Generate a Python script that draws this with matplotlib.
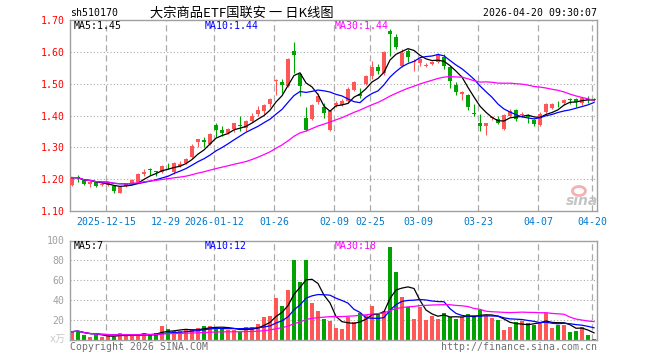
import numpy as np
import pandas as pd
import matplotlib
matplotlib.use('Agg')
import matplotlib.pyplot as plt
from matplotlib.patches import Ellipse

# ---------------- data ----------------
opens = [1.182, 1.206, 1.199, 1.186, 1.191, 1.182, 1.183, 1.180, 1.158, 1.180,
         1.186, 1.191, 1.216, 1.230, 1.225, 1.222, 1.242, 1.222, 1.241, 1.251,
         1.269, 1.316, 1.323, 1.310, 1.370, 1.354, 1.345, 1.359, 1.369, 1.362,
         1.383, 1.404, 1.413, 1.437, 1.508, 1.505, 1.493, 1.604, 1.530, 1.392,
         1.389, 1.442, 1.428, 1.355, 1.432, 1.432, 1.446, 1.480, 1.468, 1.498,
         1.525, 1.551, 1.533, 1.666, 1.648, 1.556, 1.604, 1.568, 1.566, 1.556,
         1.561, 1.567, 1.585, 1.553, 1.497, 1.468, 1.464, 1.407, 1.376, 1.366,
         1.392, 1.390, 1.357, 1.399, 1.417, 1.402, 1.398, 1.385, 1.370, 1.411,
         1.423, 1.440, 1.438, 1.452, 1.453, 1.438, 1.452, 1.452]
highs = [1.208, 1.212, 1.200, 1.193, 1.193, 1.189, 1.190, 1.182, 1.178, 1.187,
         1.200, 1.220, 1.233, 1.234, 1.226, 1.244, 1.252, 1.253, 1.258, 1.266,
         1.310, 1.327, 1.334, 1.345, 1.376, 1.366, 1.360, 1.378, 1.399, 1.386,
         1.409, 1.430, 1.436, 1.455, 1.516, 1.515, 1.582, 1.632, 1.535, 1.428,
         1.435, 1.470, 1.440, 1.418, 1.444, 1.452, 1.490, 1.508, 1.487, 1.526,
         1.572, 1.561, 1.602, 1.671, 1.655, 1.610, 1.608, 1.577, 1.580, 1.566,
         1.572, 1.596, 1.593, 1.555, 1.504, 1.478, 1.466, 1.435, 1.404, 1.378,
         1.400, 1.398, 1.404, 1.419, 1.420, 1.410, 1.404, 1.390, 1.410, 1.440,
         1.438, 1.446, 1.451, 1.456, 1.454, 1.458, 1.461, 1.455]
lows = [1.178, 1.191, 1.183, 1.175, 1.174, 1.178, 1.180, 1.158, 1.156, 1.175,
        1.184, 1.188, 1.210, 1.214, 1.210, 1.220, 1.232, 1.217, 1.238, 1.248,
        1.266, 1.300, 1.300, 1.308, 1.331, 1.336, 1.342, 1.349, 1.352, 1.352,
        1.380, 1.400, 1.405, 1.428, 1.465, 1.470, 1.490, 1.534, 1.462, 1.352,
        1.385, 1.437, 1.392, 1.352, 1.428, 1.430, 1.440, 1.478, 1.456, 1.495,
        1.515, 1.530, 1.528, 1.588, 1.608, 1.553, 1.567, 1.540, 1.555, 1.553,
        1.558, 1.565, 1.546, 1.485, 1.463, 1.449, 1.418, 1.399, 1.352, 1.340,
        1.385, 1.373, 1.354, 1.396, 1.383, 1.394, 1.376, 1.366, 1.368, 1.408,
        1.420, 1.428, 1.432, 1.436, 1.428, 1.432, 1.440, 1.444]
closes = [1.205, 1.204, 1.185, 1.190, 1.177, 1.186, 1.187, 1.162, 1.175, 1.184,
          1.198, 1.216, 1.224, 1.228, 1.222, 1.242, 1.240, 1.251, 1.248, 1.264,
          1.305, 1.326, 1.316, 1.342, 1.355, 1.346, 1.357, 1.376, 1.367, 1.383,
          1.399, 1.418, 1.432, 1.451, 1.513, 1.496, 1.578, 1.590, 1.493, 1.355,
          1.432, 1.460, 1.407, 1.413, 1.440, 1.446, 1.484, 1.505, 1.462, 1.524,
          1.551, 1.541, 1.600, 1.655, 1.614, 1.596, 1.585, 1.572, 1.578, 1.559,
          1.569, 1.590, 1.556, 1.509, 1.473, 1.475, 1.428, 1.405, 1.366, 1.376,
          1.395, 1.376, 1.401, 1.415, 1.389, 1.405, 1.396, 1.373, 1.406, 1.437,
          1.435, 1.438, 1.448, 1.450, 1.441, 1.456, 1.450, 1.448]
volumes = [8.4, 9.4, 4.7, 3.4, 5.0, 3.4, 4.0, 3.0, 7.4, 4.7,
           5.0, 6.0, 6.7, 5.0, 6.7, 14.0, 11.0, 9.3, 9.3, 10.0,
           11.0, 12.0, 14.0, 14.0, 12.7, 11.7, 10.0, 10.0, 8.3, 12.7,
           13.3, 16.0, 22.7, 24.0, 42.0, 34.0, 50.0, 80.0, 58.0, 80.0,
           37.0, 29.0, 21.0, 19.4, 11.7, 11.0, 23.4, 18.0, 26.8, 25.0,
           34.0, 26.8, 29.0, 93.6, 68.0, 43.5, 32.8, 21.0, 33.4, 20.0,
           24.0, 21.0, 27.4, 23.4, 21.0, 22.7, 26.0, 24.0, 30.0, 24.0,
           21.7, 20.0, 10.0, 13.0, 18.0, 19.0, 16.7, 15.0, 18.0, 26.8,
           12.0, 15.0, 15.0, 8.0, 9.0, 13.0, 5.0, 1.0]
tick_idx = [6, 16, 24, 34, 44, 50, 58, 68, 78, 87]
tick_labels = ['2025-12-15', '12-29', '2026-01-12', '01-26', '02-09',
               '02-25', '03-09', '03-23', '04-07', '04-20']
price_ticks = [1.10, 1.20, 1.30, 1.40, 1.50, 1.60, 1.70]
vol_ticks = [20, 40, 60, 80, 100]
price_ma_text = ['MA5:1.45', 'MA10:1.44', 'MA30:1.44']
vol_ma_text = ['MA5:7', 'MA10:12', 'MA30:18']
symbol = 'sh510170'
title = '大宗商品ETF国联安 一 日K线图'
stamp = '2026-04-20 09:30:07'

# ---------------- styling ----------------
MONO = 'DejaVu Sans Mono'
FS = 7.15
RED = '#ff5656'
GREEN = '#00a300'
GRID = '#aaaaaa'
BORDER = '#a0a0a0'
MA_COLORS = ['#000000', '#0000ff', '#ff00ff']

W, H = 660, 360
fig = plt.figure(figsize=(W / 100, H / 100), dpi=100)
fig.patch.set_facecolor('white')

def fx(px):
    return px / W

def fy(py):
    return 1 - py / H

L, R = 70, 597
ax = fig.add_axes([fx(L), fy(211), fx(R) - fx(L), fy(20) - fy(211)])
axv = fig.add_axes([fx(L), fy(340), fx(R) - fx(L), fy(240.5) - fy(340)])

df = pd.DataFrame({'o': opens, 'h': highs, 'l': lows, 'c': closes, 'v': volumes})
x = np.arange(len(df))
up = df['c'] >= df['o']
cols = np.where(up, RED, GREEN)

xmin, xmax = -1 / 3, 87.5
grid_x = [t - 1 / 3 for t in tick_idx]

# ---- price panel ----
for g in grid_x:
    ax.axvline(g, color=GRID, lw=0.9, ls=(0, (5, 3)), zorder=0)
for p in price_ticks[1:-1]:
    ax.axhline(p, color=GRID, lw=0.8, ls=(0, (1, 2)), zorder=0)

ax.vlines(x, df['l'], df['h'], colors=cols, lw=0.8, zorder=2)
body_bottom = np.minimum(df['o'], df['c'])
body_h = np.maximum((df['c'] - df['o']).abs(), 0.0028)
ax.bar(x, body_h, bottom=body_bottom, width=0.8, color=cols, linewidth=0, zorder=3)

for n, colr in zip([5, 10, 30], MA_COLORS):
    ma = df['c'].rolling(n, min_periods=1).mean()
    ax.plot(x, ma, color=colr, lw=0.9, zorder=4)

ax.set_xlim(xmin, xmax)
ax.set_ylim(price_ticks[0], price_ticks[-1])
ax.set_yticks(price_ticks)
ax.set_yticklabels(['%.2f' % p for p in price_ticks], family=MONO, fontsize=FS, color='#ff0000')
ax.set_xticks(grid_x)
ax.set_xticklabels(tick_labels, family=MONO, fontsize=FS, color='#0078cc')
ax.tick_params(length=0, pad=4)

# ---- volume panel ----
for g in grid_x:
    axv.axvline(g, color=GRID, lw=0.9, ls=(0, (5, 3)), zorder=0)
for v in vol_ticks[:-1]:
    axv.axhline(v, color=GRID, lw=0.8, ls=(0, (1, 2)), zorder=0)
axv.bar(x, df['v'], width=0.82, color=cols, linewidth=0, zorder=2)
for n, colr in zip([5, 10, 30], MA_COLORS):
    ma = df['v'].rolling(n, min_periods=1).mean()
    axv.plot(x, ma, color=colr, lw=0.9, zorder=4)
axv.set_xlim(xmin, xmax)
axv.set_ylim(0, vol_ticks[-1])
axv.set_yticks(vol_ticks)
axv.set_yticklabels([str(v) for v in vol_ticks], family=MONO, fontsize=FS, color='#a0a0a0')
axv.set_xticks([])
axv.tick_params(length=0, pad=4)

for a in (ax, axv):
    for s in a.spines.values():
        s.set_color(BORDER)
        s.set_linewidth(1.0)

# ---- texts ----
fig.text(fx(70), fy(13), symbol, family=MONO, fontsize=FS, color='#000000', va='center', ha='left')
fig.text(fx(242), fy(13), title, family=['Noto Sans CJK SC', 'DejaVu Sans'], fontsize=9.5,
         color='#000000', va='center', ha='center')
fig.text(fx(597), fy(13), stamp, family=MONO, fontsize=FS, color='#000000', va='center', ha='right')

for txt, colr, px in zip(price_ma_text, MA_COLORS, [74, 205, 334.5]):
    fig.text(fx(px), fy(26), txt, family=MONO, fontsize=FS, color=colr, va='center', ha='left')
for txt, colr, px in zip(vol_ma_text, MA_COLORS, [74, 205, 334.5]):
    fig.text(fx(px), fy(246), txt, family=MONO, fontsize=FS, color=colr, va='center', ha='left')

fig.text(fx(66), fy(339), 'x万', family=[MONO, 'Noto Sans CJK SC'], fontsize=FS,
         color='#c8c8c8', va='center', ha='right')
fig.text(fx(70), fy(346.5), 'Copyright 2026 SINA.COM', family=MONO, fontsize=FS,
         color='#707070', va='center', ha='left')
fig.text(fx(597), fy(346.5), 'http://finance.sina.com.cn', family=MONO, fontsize=FS,
         color='#707070', va='center', ha='right')

# sina watermark
fig.patches.append(Ellipse((fx(579), fy(191)), 13 / W, 9 / H, transform=fig.transFigure,
                           facecolor='none', edgecolor='#f5b0b0', lw=2.0, zorder=5))
fig.text(fx(582), fy(201), 'sina', fontsize=10, fontweight='bold', fontstyle='italic',
         color='#c4c4c4', va='center', ha='center')

fig.savefig('out.png', dpi=100, facecolor='white')
